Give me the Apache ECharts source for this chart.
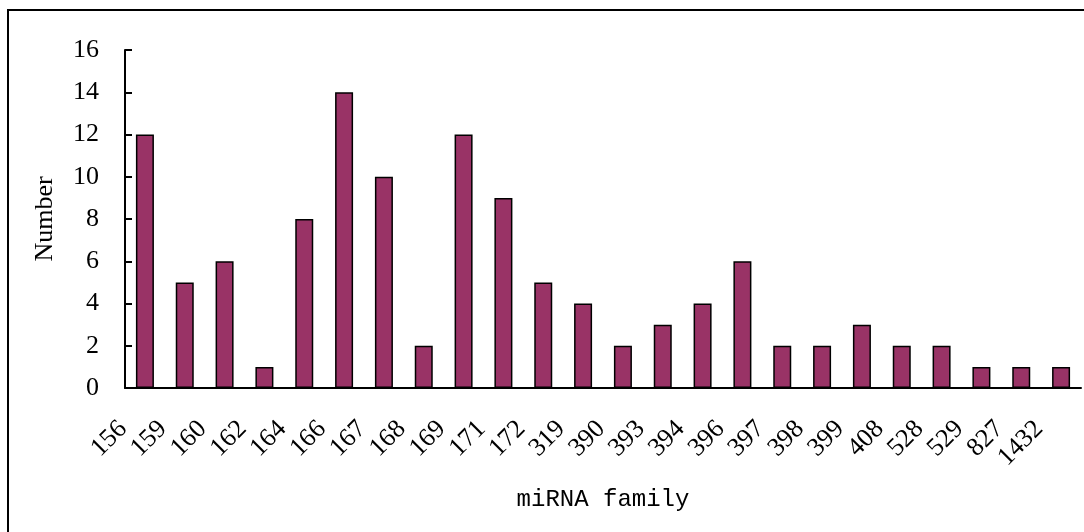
<!DOCTYPE html>
<html>
<head>
<meta charset="utf-8">
<script src="https://cdn.jsdelivr.net/npm/echarts@6/dist/echarts.min.js"></script>
<style>
  html, body { margin: 0; padding: 0; background: #fff; }
  #chart { width: 1084px; height: 532px; }
</style>
</head>
<body>
<div id="chart"></div>
<script>
// miRNA families on the x axis
var families = ['156', '159', '160', '162', '164', '166', '167', '168', '169', '171', '172', '319',
  '390', '393', '394', '396', '397', '398', '399', '408', '528', '529', '827', '1432'];
// number of members per family
var counts = [12, 5, 6, 1, 8, 14, 10, 2, 12, 9, 5, 4, 2, 3, 4, 6, 2, 2, 3, 2, 2, 1, 1, 1];

var serif = '"Liberation Serif", "Times New Roman", serif';
var mono = '"Liberation Mono", "DejaVu Sans Mono", monospace';

var chart = echarts.init(document.getElementById('chart'));

chart.setOption({
  animation: false,
  backgroundColor: '#fff',
  graphic: [{
    type: 'rect',
    shape: { x: 8, y: 10, width: 1090, height: 540 },
    style: { fill: null, stroke: '#000', lineWidth: 2 },
    silent: true
  }],
  grid: { left: 125, top: 50, right: 3, bottom: 144 },
  xAxis: {
    type: 'category',
    data: families,
    name: 'miRNA family',
    nameLocation: 'middle',
    nameGap: 100,
    nameTextStyle: { fontFamily: mono, fontSize: 24, color: '#000' },
    axisLine: { lineStyle: { color: '#000', width: 2 } },
    axisTick: { inside: true, length: 7, lineStyle: { color: '#000', width: 2 } },
    // excel puts the rotated labels a little left of the category centre
    axisLabel: {
      rotate: 45, interval: 0, margin: 15, padding: [0, 31, 0, 0],
      fontFamily: serif, fontSize: 26, color: '#000'
    }
  },
  yAxis: {
    type: 'value',
    min: 0,
    max: 16,
    interval: 2,
    name: 'Number',
    nameLocation: 'middle',
    nameGap: 67,
    nameTextStyle: { fontFamily: serif, fontSize: 26, color: '#000' },
    axisLine: { show: true, lineStyle: { color: '#000', width: 2 } },
    axisTick: { show: true, inside: true, length: 7, lineStyle: { color: '#000', width: 2 } },
    axisLabel: { margin: 26, fontFamily: serif, fontSize: 26, color: '#000' },
    splitLine: { show: false }
  },
  series: [{
    type: 'bar',
    data: counts,
    barWidth: 18,
    itemStyle: { color: '#993366', borderColor: '#000', borderWidth: 1.5 }
  }]
});
</script>
</body>
</html>
